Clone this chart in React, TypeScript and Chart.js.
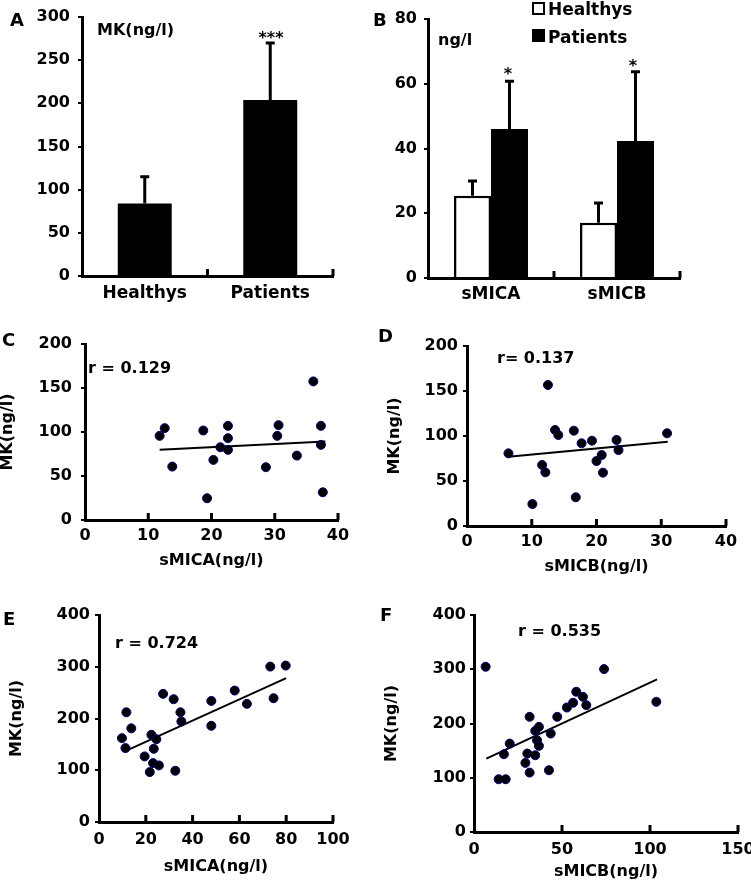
import React, { useEffect, useRef } from 'react';
import { Chart, registerables } from 'chart.js';
Chart.register(...registerables);

const FONT = '"DejaVu Sans", sans-serif';

// ---------- Panel A: MK by group ----------
const groupsA = ['Healthys', 'Patients'];
const mkMeanA = [84, 204];
const mkErrA = [31, 66];

// ---------- Panel B: sMICA / sMICB ----------
const groupsB = ['sMICA', 'sMICB'];
const healthyMeanB = [25.4, 17.1];
const healthyErrB = [4.6, 6.1];
const patientMeanB = [46.0, 42.3];
const patientErrB = [14.8, 21.4];

// ---------- Panel C: sMICA vs MK (healthy) ----------
const cX = [11.8, 12.6, 13.8, 18.7, 19.3, 20.3, 21.4, 22.6, 22.6, 22.6, 28.6, 30.6, 30.4, 33.5, 36.1, 37.3, 37.3, 37.6];
const cY = [95.6, 104.4, 60.7, 101.7, 24.7, 68.3, 82.7, 107, 93, 79.7, 60, 107.8, 95.6, 73.2, 157.5, 107, 85.4, 31.5];
const cFitX = [11.8, 38];
const cFitY = [79.7, 89.2];

// ---------- Panel D: sMICB vs MK (healthy) ----------
const dX = [6.4, 10.1, 11.6, 12.1, 12.5, 13.6, 14.1, 16.5, 16.8, 17.7, 19.3, 20.0, 20.8, 21.0, 23.1, 23.4, 30.9];
const dY = [80.7, 24.4, 67.8, 59.6, 156.7, 106.7, 101.1, 105.9, 31.9, 91.9, 94.8, 72.2, 78.9, 59.3, 95.6, 84.4, 103];
const dFitX = [6.4, 31];
const dFitY = [77, 93.7];

// ---------- Panel E: sMICA vs MK (patients) ----------
const eX = [9.8, 11.3, 11.7, 13.8, 19.5, 21.7, 22.4, 23.1, 23.4, 24.5, 25.6, 27.4, 31.9, 32.6, 34.8, 35.2, 48, 48, 58, 63.2, 73.2, 74.6, 79.8];
const eY = [162, 142.8, 212, 181, 126.7, 96.5, 168.5, 113.8, 141.5, 160, 109.3, 247.6, 237.3, 99, 212, 194.2, 234, 185.9, 254, 228.3, 300.3, 239.2, 302.3];
const eFitX = [11.7, 80];
const eFitY = [138, 278];

// ---------- Panel F: sMICB vs MK (patients) ----------
const fX = [6.6, 14, 17, 18, 20.3, 29.2, 30.3, 31.6, 31.6, 34.8, 34.8, 35.8, 36.9, 36.9, 43.6, 42.6, 47.3, 52.8, 56.3, 58.1, 61.9, 63.8, 73.9, 103.6];
const fY = [304.6, 97.2, 143.4, 97.2, 163, 127.4, 144.6, 109.5, 212.3, 186.5, 141.5, 169.2, 193.8, 158.8, 181.5, 113.8, 212.3, 229.5, 238.2, 258.5, 249.2, 233.8, 300.3, 240];
const fFitX = [7, 104];
const fFitY = [135.4, 281.2];

const numFont = { family: FONT, size: 16, weight: 'bold' as const };
const catFont = { family: FONT, size: 17, weight: 'bold' as const };
const titleFont = { family: FONT, size: 16, weight: 'bold' as const, lineHeight: 1 };

const errorBarPlugin = {
  id: 'errorBars',
  afterDatasetsDraw(chart: any) {
    const ctx = chart.ctx;
    const ys = chart.scales.y;
    chart.data.datasets.forEach((ds: any, di: number) => {
      const errs = ds.errors;
      if (!errs) return;
      const meta = chart.getDatasetMeta(di);
      meta.data.forEach((bar: any, i: number) => {
        const x = bar.x;
        const top = ys.getPixelForValue(ds.data[i] + errs[i]);
        ctx.save();
        ctx.strokeStyle = '#000';
        ctx.lineWidth = 3;
        ctx.beginPath();
        ctx.moveTo(x, bar.y);
        ctx.lineTo(x, top);
        ctx.moveTo(x - 4.5, top);
        ctx.lineTo(x + 4.5, top);
        ctx.stroke();
        ctx.restore();
      });
    });
  },
};

const innerTicksPlugin = {
  id: 'innerTicks',
  afterDraw(chart: any) {
    const { ctx, chartArea } = chart;
    const xs = chart.scales.x;
    let pos: number[] = [];
    if (xs.type === 'category') {
      const n = chart.data.labels.length;
      const w = (chartArea.right - chartArea.left) / n;
      for (let i = 1; i <= n; i++) pos.push(chartArea.left + i * w);
    } else {
      pos = xs.ticks.filter((t: any) => t.value > xs.min).map((t: any) => xs.getPixelForValue(t.value));
    }
    ctx.save();
    ctx.strokeStyle = '#000';
    ctx.lineWidth = 3;
    ctx.beginPath();
    pos.forEach((p) => {
      ctx.moveTo(p, chartArea.bottom);
      ctx.lineTo(p, chartArea.bottom - 7);
    });
    ctx.stroke();
    ctx.restore();
  },
};

function yScale(max: number, step: number, yW: number, pad: number, title?: string) {
  return {
    type: 'linear',
    min: 0,
    max,
    ticks: { stepSize: step, font: numFont, color: '#000', padding: pad },
    grid: { display: true, drawOnChartArea: false, drawTicks: true, tickLength: 4, lineWidth: 2, color: '#000' },
    border: { display: true, width: 3, color: '#000' },
    title: title ? { display: true, text: title, font: titleFont, color: '#000', padding: 0 } : { display: false },
    afterFit: (s: any) => {
      s.width = yW;
      s.paddingTop = 0;
      s.paddingBottom = 0;
    },
  };
}

function xLinear(max: number, step: number, xH: number, pad: number, title: string) {
  return {
    type: 'linear',
    min: 0,
    max,
    ticks: { stepSize: step, font: numFont, color: '#000', padding: pad },
    grid: { display: false, drawTicks: false },
    border: { display: true, width: 3, color: '#000' },
    title: { display: true, text: title, font: titleFont, color: '#000', padding: 0 },
    afterFit: (s: any) => {
      s.height = xH;
      s.paddingLeft = 0;
      s.paddingRight = 0;
    },
  };
}

function xCategory(xH: number, pad: number) {
  return {
    type: 'category',
    ticks: { font: catFont, color: '#000', padding: pad },
    grid: { display: false, drawTicks: false },
    border: { display: true, width: 3, color: '#000' },
    afterFit: (s: any) => {
      s.height = xH;
      s.paddingLeft = 0;
      s.paddingRight = 0;
    },
  };
}

const basePlugins = { legend: { display: false }, tooltip: { enabled: false } };

function makeA() {
  return {
    type: 'bar',
    data: {
      labels: groupsA,
      datasets: [
        {
          data: mkMeanA,
          errors: mkErrA,
          backgroundColor: '#000',
          borderWidth: 0,
          categoryPercentage: 1,
          barPercentage: 0.43,
        },
      ],
    },
    options: {
      responsive: false,
      animation: false,
      events: [],
      layout: { padding: { left: 0, top: 17, right: 42, bottom: 0 } },
      plugins: basePlugins,
      scales: { x: xCategory(34, 7), y: yScale(300, 50, 82, 8) },
    },
    plugins: [errorBarPlugin, innerTicksPlugin],
  };
}

function makeB() {
  return {
    type: 'bar',
    data: {
      labels: groupsB,
      datasets: [
        {
          label: 'Healthys',
          data: healthyMeanB,
          errors: healthyErrB,
          backgroundColor: '#fff',
          borderColor: '#000',
          borderWidth: 2.5,
          categoryPercentage: 0.587,
          barPercentage: 1,
        },
        {
          label: 'Patients',
          data: patientMeanB,
          errors: patientErrB,
          backgroundColor: '#000',
          borderWidth: 0,
          categoryPercentage: 0.587,
          barPercentage: 1,
        },
      ],
    },
    options: {
      responsive: false,
      animation: false,
      events: [],
      layout: { padding: { left: 0, top: 19, right: 71, bottom: 0 } },
      plugins: basePlugins,
      scales: { x: xCategory(32, 6), y: yScale(80, 20, 53, 7) },
    },
    plugins: [errorBarPlugin, innerTicksPlugin],
  };
}

function makeScatter(
  xs: number[], ys: number[], fx: number[], fy: number[],
  xMax: number, xStep: number, yMax: number, yStep: number,
  xTitle: string, pad: any, yW: number, xH: number, yPad: number, xPad: number
) {
  return {
    type: 'scatter',
    data: {
      datasets: [
        {
          data: xs.map((x, i) => ({ x, y: ys[i] })),
          backgroundColor: '#000',
          borderColor: '#000070',
          borderWidth: 1,
          pointRadius: 4.5,
          order: 0,
        },
        {
          data: fx.map((x, i) => ({ x, y: fy[i] })),
          showLine: true,
          borderColor: '#000',
          borderWidth: 2,
          pointRadius: 0,
          fill: false,
          order: 1,
        },
      ],
    },
    options: {
      responsive: false,
      animation: false,
      events: [],
      layout: { padding: pad },
      plugins: basePlugins,
      scales: {
        x: xLinear(xMax, xStep, xH, xPad, xTitle),
        y: yScale(yMax, yStep, yW, yPad, 'MK(ng/l)'),
      },
    },
    plugins: [innerTicksPlugin],
  };
}

const makeC = () => makeScatter(cX, cY, cFitX, cFitY, 40, 10, 200, 50, 'sMICA(ng/l)', { left: 0, top: 24, right: 37, bottom: 31 }, 85, 49, 9, 6);
const makeD = () => makeScatter(dX, dY, dFitX, dFitY, 40, 10, 200, 50, 'sMICB(ng/l)', { left: 12, top: 26, right: 25, bottom: 25 }, 80, 49, 5, 6);
const makeE = () => makeScatter(eX, eY, eFitX, eFitY, 100, 20, 400, 100, 'sMICA(ng/l)', { left: 9, top: 15, right: 42, bottom: 7 }, 90, 53, 5, 8);
const makeF = () => makeScatter(fX, fY, fFitX, fFitY, 150, 50, 400, 100, 'sMICB(ng/l)', { left: 9, top: 15, right: 13, bottom: 2 }, 90, 48, 4, 8);

function ChartBox({ left, top, width, height, make }: any) {
  const ref = useRef<HTMLCanvasElement>(null);
  useEffect(() => {
    const c = new Chart(ref.current as HTMLCanvasElement, make());
    return () => c.destroy();
  }, []);
  return (
    <canvas
      ref={ref}
      width={width}
      height={height}
      style={{ position: 'absolute', left, top, width, height }}
    />
  );
}

function Txt({ x, y, size = 16, children, center }: any) {
  return (
    <div
      style={{
        position: 'absolute',
        left: center ? x - 40 : x,
        top: y,
        width: center ? 80 : undefined,
        textAlign: center ? 'center' : 'left',
        fontFamily: FONT,
        fontWeight: 'bold',
        fontSize: size,
        lineHeight: 1,
        whiteSpace: 'nowrap',
        color: '#000',
      }}
    >
      {children}
    </div>
  );
}

function Box({ x, y, filled }: any) {
  return (
    <div
      style={{
        position: 'absolute',
        left: x,
        top: y,
        width: 13,
        height: 13,
        boxSizing: 'border-box',
        border: '2.5px solid #000',
        background: filled ? '#000' : '#fff',
      }}
    />
  );
}

export default function App() {
  return (
    <div style={{ position: 'absolute', left: 0, top: 0, width: 751, height: 882, background: '#fff', overflow: 'hidden' }}>
      <ChartBox left={0} top={0} width={375} height={310} make={makeA} />
      <ChartBox left={375} top={0} width={376} height={310} make={makeB} />
      <ChartBox left={0} top={320} width={375} height={280} make={makeC} />
      <ChartBox left={375} top={320} width={376} height={280} make={makeD} />
      <ChartBox left={0} top={600} width={375} height={282} make={makeE} />
      <ChartBox left={375} top={600} width={376} height={282} make={makeF} />

      <Txt x={10} y={11} size={18}>A</Txt>
      <Txt x={373} y={11} size={18}>B</Txt>
      <Txt x={2} y={331} size={18}>C</Txt>
      <Txt x={378} y={327} size={18}>D</Txt>
      <Txt x={3} y={610} size={18}>E</Txt>
      <Txt x={380} y={606} size={18}>F</Txt>

      <Txt x={97} y={22}>MK(ng/l)</Txt>
      <Txt x={271} y={30} size={16} center>***</Txt>

      <Txt x={438} y={32}>ng/l</Txt>
      <Txt x={508} y={66} size={16} center>*</Txt>
      <Txt x={633} y={58} size={16} center>*</Txt>
      <Box x={532} y={2} />
      <Txt x={548} y={1} size={17}>Healthys</Txt>
      <Box x={532} y={29} filled />
      <Txt x={548} y={29} size={17}>Patients</Txt>

      <Txt x={88} y={360}>r = 0.129</Txt>
      <Txt x={497} y={350}>r= 0.137</Txt>
      <Txt x={115} y={635}>r = 0.724</Txt>
      <Txt x={518} y={623}>r = 0.535</Txt>
    </div>
  );
}
